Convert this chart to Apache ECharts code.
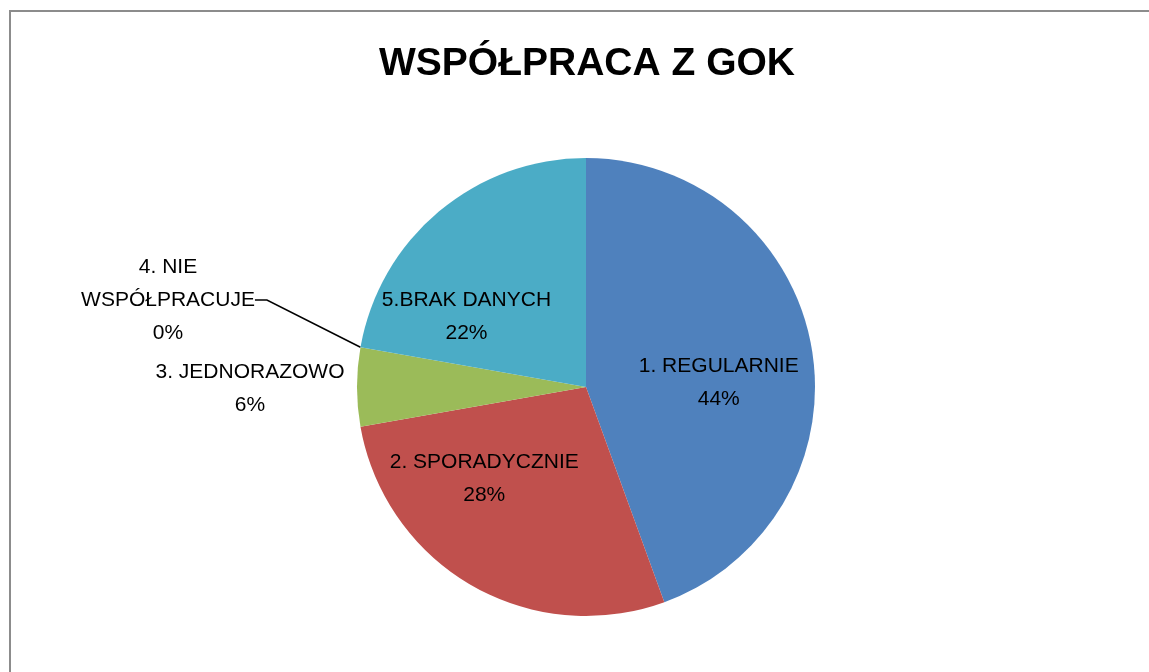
<!DOCTYPE html>
<html>
<head>
<meta charset="utf-8">
<script src="https://cdn.jsdelivr.net/npm/echarts@6/dist/echarts.min.js"></script>
<style>
    html, body { margin: 0; padding: 0; background: #fff; }
    .ramka {
        position: absolute;
        left: 9px;
        top: 10px;
        width: 1160px;
        height: 700px;
        border-top: 2px solid #8c8c8c;
        border-left: 2px solid #8c8c8c;
    }
    #main {
        position: absolute;
        left: 0;
        top: 0;
        width: 1149px;
        height: 672px;
    }
</style>
</head>
<body>
<div class="ramka"></div>
<div id="main"></div>
<script>
// dane wykresu
const kategorie = ['1. REGULARNIE', '2. SPORADYCZNIE', '3. JEDNORAZOWO', '4. NIE\nWSPÓŁPRACUJE', '5.BRAK DANYCH'];
const wartosci = [8, 5, 1, 0, 4];
const kolory = ['#4F81BD', '#C0504D', '#9BBB59', '#8064A2', '#4BACC6'];

const font = 'Liberation Sans';

let Chart = echarts.init(document.getElementById('main'));

// przesunięcia etykiet wewnątrz wycinków
const przesuniecia = [
    { dx: 17, dy: 16 },
    { dx: -43, dy: -10 },
    null,
    null,
    { dx: -44, dy: 20 }
];

let options = {
    animation: false,
    title: {
        text: 'WSPÓŁPRACA Z GOK',
        left: 374,
        top: 40,
        textStyle: {
            fontFamily: font,
            fontWeight: 'bold',
            fontSize: 39,
            color: '#000'
        }
    },
    series: [
        {
            type: 'pie',
            center: [586, 387],
            radius: 229,
            startAngle: 90,
            clockwise: true,
            avoidLabelOverlap: false,
            minShowLabelAngle: 0,
            data: kategorie.map((k, i) => {
                let item = {
                    name: k,
                    value: wartosci[i],
                    itemStyle: { color: kolory[i] }
                };
                if (i === 2) {
                    item.label = { position: 'outside' };
                    item.labelLine = { show: false };
                }
                if (i === 3) {
                    item.label = { position: 'outside' };
                    item.labelLine = {
                        show: true,
                        length: 90,
                        length2: 12,
                        lineStyle: { color: '#000', width: 1.5 }
                    };
                }
                return item;
            }),
            label: {
                show: true,
                position: 'inside',
                fontFamily: font,
                fontSize: 21,
                lineHeight: 33,
                color: '#000',
                align: 'center',
                formatter: function (p) {
                    return p.name + '\n' + Math.round(p.percent) + '%';
                }
            },
            labelLine: { show: false },
            labelLayout: function (params) {
                let i = params.dataIndex;
                if (i === 2) {
                    return { x: 250, y: 389, align: 'center', verticalAlign: 'middle' };
                }
                if (i === 3) {
                    return { x: 168, y: 300, align: 'center', verticalAlign: 'middle' };
                }
                return przesuniecia[i];
            },
            emphasis: { disabled: true }
        }
    ]
};

Chart.setOption(options);
</script>
</body>
</html>
